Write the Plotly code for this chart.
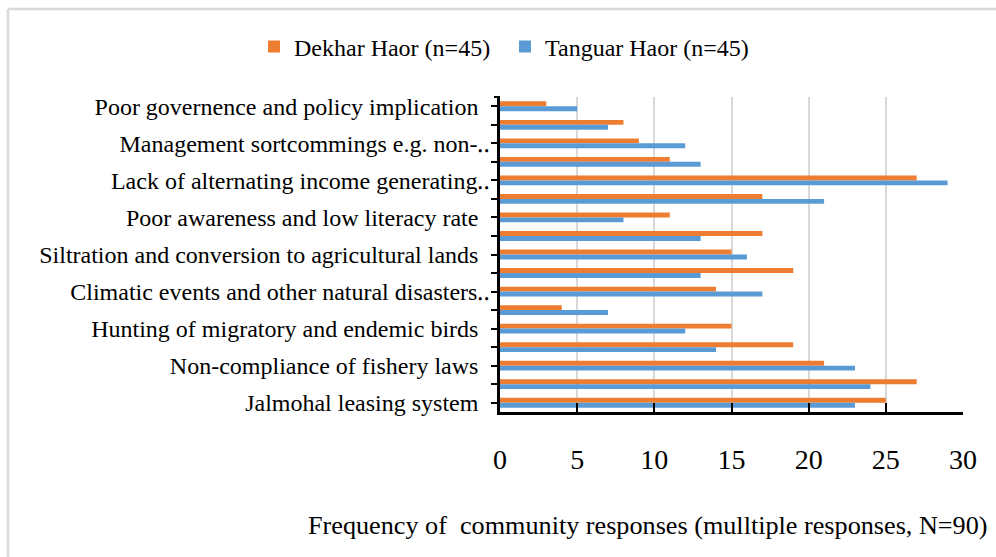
import plotly.graph_objects as go

NB = "\u00a0\u00a0"  # trailing pad so untruncated labels end left of the truncated ones
# Data (top to bottom as shown in the chart)
categories = [
    "Poor governence and policy implication" + NB, "",
    "Management sortcommings e.g. non-\u2025", "",
    "Lack of alternating income generating\u2025", "",
    "Poor awareness and low literacy rate" + NB, "",
    "Siltration and conversion to agricultural lands" + NB, "",
    "Climatic events and other natural disasters\u2025", "",
    "Hunting of migratory and endemic birds" + NB, "",
    "Non-compliance of fishery laws" + NB, "",
    "Jalmohal leasing system" + NB,
]
dekhar = [3, 8, 9, 11, 27, 17, 11, 17, 15, 19, 14, 4, 15, 19, 21, 27, 25]
tanguar = [5, 7, 12, 13, 29, 21, 8, 13, 16, 13, 17, 7, 12, 14, 23, 24, 23]
x_ticks = [0, 5, 10, 15, 20, 25, 30]
series_names = ["Dekhar Haor (n=45)", "Tanguar Haor (n=45)"]
x_title = "Frequency of \u00a0community responses (mulltiple responses, N=90)"

W, H = 996, 557
L, R, T, B = 500, 33, 97, 145
PW, PH = W - L - R, H - T - B

def px_x(px):
    return (px - L) / PW

def px_y(py):
    return (H - B - py) / PH

FONT = "Liberation Serif"
pos = list(range(len(categories)))

fig = go.Figure()
fig.add_trace(go.Bar(y=pos, x=dekhar, orientation="h", name=series_names[0],
                     marker=dict(color="#ED7D31", line=dict(width=0))))
fig.add_trace(go.Bar(y=pos, x=tanguar, orientation="h", name=series_names[1],
                     marker=dict(color="#5B9BD5", line=dict(width=0))))

fig.update_layout(
    width=W, height=H,
    margin=dict(l=L, r=R, t=T, b=B, pad=0, autoexpand=False),
    paper_bgcolor="white", plot_bgcolor="white",
    barmode="group", bargap=0.47, bargroupgap=0,
    font=dict(family=FONT, color="black", size=24),
    legend=dict(orientation="h", xref="paper", yref="paper",
                x=px_x(254), xanchor="left",
                y=px_y(47), yanchor="middle",
                font=dict(family=FONT, size=24, color="black"),
                itemwidth=30, entrywidth=206, tracegroupgap=0,
                bgcolor="rgba(0,0,0,0)"),
    showlegend=True,
)

fig.update_xaxes(
    range=[0, 30], tickvals=x_ticks, ticktext=[str(v) for v in x_ticks],
    showgrid=True, gridcolor="#d9d9d9", gridwidth=1.5,
    showline=True, linecolor="black", linewidth=2.5,
    ticks="inside", ticklen=9, tickwidth=2, tickcolor="black",
    tickfont=dict(family=FONT, size=28, color="black"),
    ticklabelstandoff=21, zeroline=False, automargin=False,
)
fig.update_yaxes(
    range=[len(categories) - 0.5, -0.5],
    tickmode="array", tickvals=pos, ticktext=categories,
    showgrid=False, showline=True, linecolor="black", linewidth=2.5,
    ticks="outside", ticklen=6, tickwidth=2, tickcolor="black",
    tickfont=dict(family=FONT, size=24, color="black"),
    ticklabelstandoff=-4, zeroline=False, automargin=False,
)

# x-axis title
fig.add_annotation(text=x_title, xref="paper", yref="paper",
                   x=px_x(306), y=px_y(525), xanchor="left", yanchor="middle",
                   showarrow=False, font=dict(family=FONT, size=26.2, color="black"))

# chart border (left and top visible)
bx, by = px_x(8), px_y(9)
fig.add_shape(type="line", xref="paper", yref="paper", x0=bx, x1=bx, y0=px_y(H + 5), y1=by,
              line=dict(color="#d9d9d9", width=2.5))
fig.add_shape(type="line", xref="paper", yref="paper", x0=bx, x1=px_x(W + 5), y0=by, y1=by,
              line=dict(color="#d9d9d9", width=2.5))
# top end tick of the category axis
fig.add_shape(type="line", xref="paper", yref="paper", x0=px_x(494), x1=0, y0=1, y1=1,
              line=dict(color="black", width=2))

fig.write_html("out.html", config={"displayModeBar": False},
               post_script="document.body.style.margin='0';")
